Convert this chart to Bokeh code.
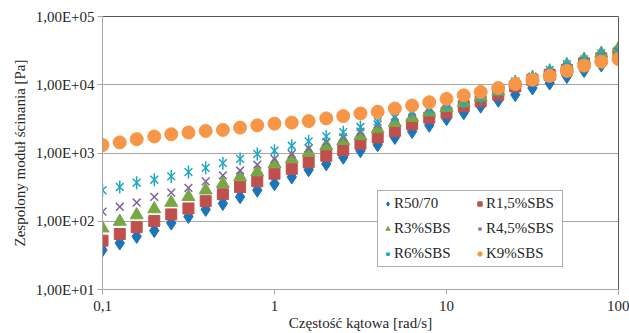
from bokeh.plotting import figure
from bokeh.models import (Legend, LegendItem, FixedTicker, LogAxis, ColumnDataSource)
from bokeh.embed import file_html
from bokeh.resources import INLINE
import math

freq = [0.1, 0.126, 0.158, 0.2, 0.251, 0.316, 0.398, 0.501, 0.631, 0.794,
        1.0, 1.26, 1.58, 2.0, 2.51, 3.16, 3.98, 5.01, 6.31, 7.94,
        10.0, 12.6, 15.8, 20.0, 25.1, 31.6, 39.8, 50.1, 63.1, 79.4, 100.0]

r50_70 = [38, 48, 60, 73, 94, 117, 149, 182, 228, 285,
          355, 445, 567, 693, 866, 1080, 1318, 1690, 2060, 2546,
          3185, 3890, 4855, 5910, 7160, 8960, 10590, 13190, 16110, 19500, 27000]
r1_5 = [52, 65, 82, 101, 126, 154, 197, 249, 318, 384,
        497, 586, 730, 910, 1100, 1370, 1688, 2103, 2630, 3290,
        3890, 4855, 5730, 7160, 9460, 11800, 13960, 16480, 20600, 24400, 28800]
r3 = [79, 99, 123, 151, 188, 228, 285, 355, 445, 525,
      693, 818, 1020, 1277, 1508, 1782, 2250, 2786, 3290, 3970,
      4590, 5430, 6550, 8000, 10600, 12500, 15600, 19500, 23500, 28800, 34000]
r4_5 = [138, 163, 188, 228, 263, 308, 384, 469, 554, 676,
        818, 968, 1170, 1440, 1690, 2050, 2630, 3290, 3900, 4590,
        5500, 6500, 7700, 9200, 11000, 12800, 15200, 18200, 22000, 26000, 30500]
r6 = [285, 318, 367, 406, 454, 525, 607, 709, 818, 968,
      1080, 1277, 1480, 1750, 2020, 2404, 2877, 3472, 4100, 4345,
      4963, 5541, 6410, 8000, 11170, 13190, 16480, 19950, 23500, 28800, 32100]
k9 = [1306, 1429, 1596, 1746, 1885, 1995, 2105, 2177, 2357, 2546,
      2693, 2786, 2938, 3216, 3472, 3800, 4020, 4487, 4963, 5541,
      6206, 6998, 7830, 8960, 10230, 11810, 13500, 15960, 19040, 21770, 23800]

series_names = ["R50/70", "R1,5%SBS", "R3%SBS", "R4,5%SBS", "R6%SBS", "K9%SBS"]
x_ticks = [0.1, 1, 10, 100]
x_tick_labels = ["0,1", "1", "10", "100"]
y_ticks = [10, 100, 1000, 10000, 100000]
y_tick_labels = ["1,00E+01", "1,00E+02", "1,00E+03", "1,00E+04", "1,00E+05"]

FONT = "'Liberation Serif', 'Times New Roman', serif"
TXT = "#262626"

p = figure(width=629, height=333, x_axis_type="log", y_axis_type="log",
           x_range=(0.1, 100), y_range=(10, 100000),
           output_backend="svg", toolbar_location=None,
           min_border_left=102, min_border_right=11,
           min_border_top=16, min_border_bottom=41)
p.outline_line_color = None
p.background_fill_color = "white"
p.border_fill_color = "white"

src = ColumnDataSource(dict(x=freq, a=r50_70, b=r1_5, c=r3, d=r4_5, e=r6, f=k9))

ra = p.scatter("x", "a", source=src, marker="diamond", size=14,
               fill_color="#1a75bb", line_color="#1a75bb")
rb = p.scatter("x", "b", source=src, marker="square", size=11,
               fill_color="#c0504d", line_color="#c0504d")
rc = p.scatter("x", "c", source=src, marker="triangle", size=13,
               fill_color="#77a845", line_color="#77a845")
rd = p.scatter("x", "d", source=src, marker="x", size=11,
               line_color="#8064a2", line_width=1.5)
re1 = p.scatter("x", "e", source=src, marker="x", size=11,
                line_color="#20a8c0", line_width=1.5)
re2 = p.scatter("x", "e", source=src, marker="dash", size=13, angle=math.pi / 2,
                line_color="#20a8c0", line_width=1.5)
rf = p.scatter("x", "f", source=src, marker="circle", size=13,
               fill_color="#f79646", line_color="#f79646")

# axes
for ax in (p.xaxis[0], p.yaxis[0]):
    ax.axis_line_color = "#a6a6a6"
    ax.major_tick_line_color = "#a6a6a6"
    ax.major_tick_out = 5
    ax.major_tick_in = 0
    ax.minor_tick_line_color = None
    ax.major_label_text_font = FONT
    ax.major_label_text_font_size = "15px"
    ax.major_label_text_color = TXT
    ax.axis_label_text_font = FONT
    ax.axis_label_text_font_size = "15px"
    ax.axis_label_text_font_style = "normal"
    ax.axis_label_text_color = TXT

p.xaxis[0].ticker = FixedTicker(ticks=x_ticks)
p.xaxis[0].major_label_overrides = {t: l for t, l in zip(x_ticks, x_tick_labels)}
p.yaxis[0].ticker = FixedTicker(ticks=y_ticks)
p.yaxis[0].major_label_overrides = {t: l for t, l in zip(y_ticks, y_tick_labels)}
p.xaxis[0].axis_label = "Częstość kątowa [rad/s]"
p.yaxis[0].axis_label = "Zespolony moduł ścinania [Pa]"
p.xaxis[0].major_label_standoff = 6
p.yaxis[0].major_label_standoff = 3
p.xaxis[0].axis_label_standoff = 1
p.yaxis[0].axis_label_standoff = 5

for loc in ("right", "above"):
    ax = LogAxis(ticker=FixedTicker(ticks=[]), axis_line_color="#595959",
                 major_tick_line_color=None, minor_tick_line_color=None,
                 major_label_text_font_size="0px")
    p.add_layout(ax, loc)

p.xgrid.grid_line_color = None
p.ygrid.grid_line_color = "#a6a6a6"
p.ygrid.ticker = FixedTicker(ticks=y_ticks)

items = [
    LegendItem(label=series_names[0], renderers=[ra]),
    LegendItem(label=series_names[1], renderers=[rb]),
    LegendItem(label=series_names[2], renderers=[rc]),
    LegendItem(label=series_names[3], renderers=[rd]),
    LegendItem(label=series_names[4], renderers=[re1, re2]),
    LegendItem(label=series_names[5], renderers=[rf]),
]
legend = Legend(items=items, location=(275, 22), orientation="horizontal", ncols=2,
                border_line_color="#595959", border_line_width=1,
                background_fill_color="white", background_fill_alpha=1,
                label_text_font=FONT, label_text_font_size="15px",
                label_text_color=TXT, glyph_width=11, glyph_height=11,
                label_standoff=1, label_width=72, spacing=8,
                padding=4, margin=0)
p.add_layout(legend, "center")

open("out.html", "w").write(file_html(p, INLINE))
